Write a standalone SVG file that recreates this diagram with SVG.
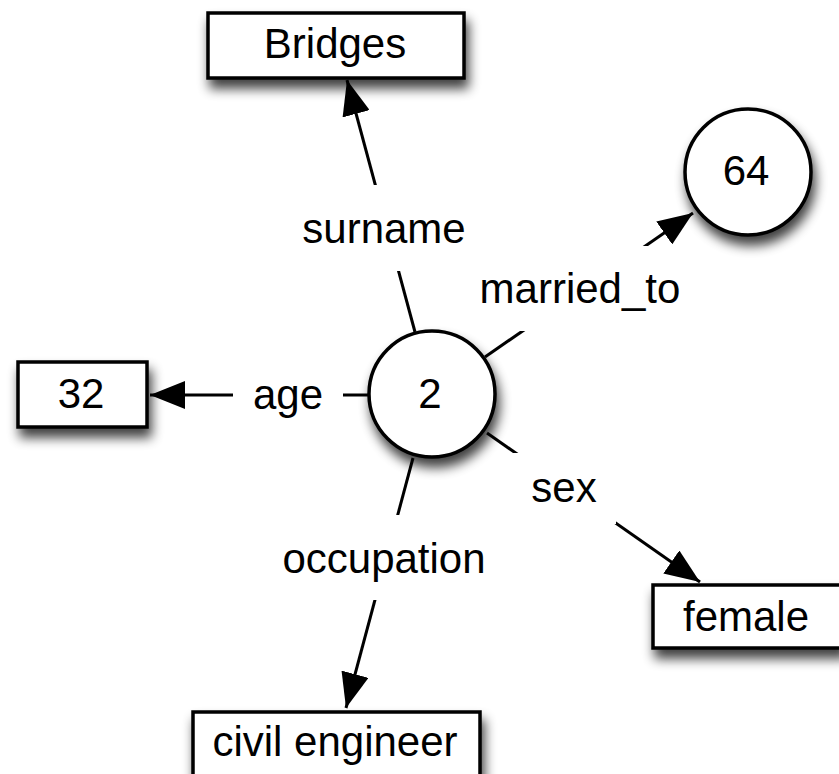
<svg xmlns="http://www.w3.org/2000/svg" width="839" height="774" viewBox="0 0 839 774">
<defs>
<style>
.node{fill:#fff;stroke:#000;stroke-width:3.5}
.t{font-family:"Liberation Sans",Arial,Helvetica,sans-serif;font-size:42px;fill:#000;text-anchor:middle}
.edge{stroke:#000;stroke-width:3;fill:none;marker-end:url(#arr)}
.lbg{fill:#fff;stroke:none}
</style>
<filter id="sh" x="-30%" y="-30%" width="160%" height="170%">
<feGaussianBlur in="SourceAlpha" stdDeviation="6"/>
<feOffset dx="3" dy="9" result="b"/>
<feComponentTransfer><feFuncA type="linear" slope="0.75"/></feComponentTransfer>
<feMerge><feMergeNode/><feMergeNode in="SourceGraphic"/></feMerge>
</filter>
<marker id="arr" markerUnits="userSpaceOnUse" viewBox="0 0 36 28" markerWidth="36" markerHeight="28" refX="35" refY="14" orient="auto">
<path d="M0,0 L35,14 L0,28 z" fill="#000"/>
</marker>
</defs>
<rect width="839" height="774" fill="#fff"/>
<g id="n2"><circle class="node" cx="432" cy="394" r="63" filter="url(#sh)"/><text class="t" x="430" y="408">2</text></g>
<g id="nBridges"><rect class="node" x="208" y="13" width="256" height="65" filter="url(#sh)"/><text class="t" x="335" y="58">Bridges</text></g>
<g id="n64"><circle class="node" cx="748" cy="172" r="63" filter="url(#sh)"/><text class="t" x="746" y="185">64</text></g>
<g id="n32"><rect class="node" x="18" y="362" width="129" height="65" filter="url(#sh)"/><text class="t" x="81" y="408">32</text></g>
<g id="nfemale"><rect class="node" x="653" y="585" width="190" height="63" filter="url(#sh)"/><text class="t" x="746" y="631">female</text></g>
<g id="ncivil"><rect class="node" x="193" y="712" width="287" height="75" filter="url(#sh)"/><text class="t" x="335" y="756">civil engineer</text></g>
<g id="connectors">
<line class="edge" x1="415" y1="332" x2="347" y2="80"/>
<line class="edge" x1="485" y1="357" x2="693" y2="213"/>
<line class="edge" x1="368" y1="395" x2="150" y2="395"/>
<line class="edge" x1="487" y1="433" x2="700" y2="582"/>
<line class="edge" x1="413" y1="458" x2="346" y2="708"/>
<rect class="lbg" x="293" y="185" width="182" height="86"/>
<text class="t" x="384" y="243">surname</text>
<rect class="lbg" x="468" y="246" width="232" height="85"/>
<text class="t" x="580" y="303">married_to</text>
<rect class="lbg" x="233" y="352" width="110" height="86"/>
<text class="t" x="288" y="409">age</text>
<rect class="lbg" x="510" y="453" width="106" height="71"/>
<text class="t" x="564" y="502">sex</text>
<rect class="lbg" x="272" y="515" width="224" height="85"/>
<text class="t" x="384" y="573">occupation</text>
</g>
</svg>
